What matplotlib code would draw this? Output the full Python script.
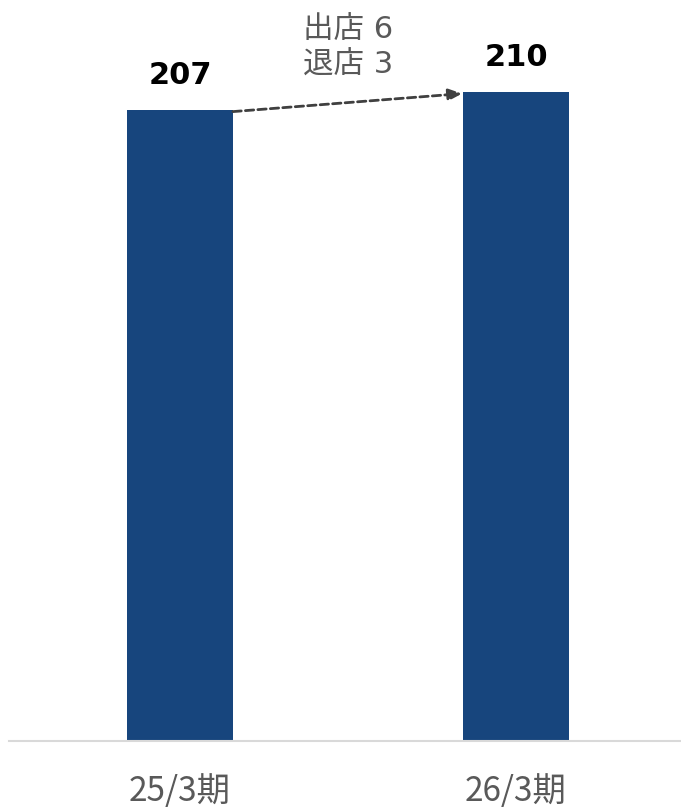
import matplotlib
matplotlib.use("Agg")
import matplotlib.pyplot as plt

plt.rcParams['font.family'] = ['Noto Sans CJK JP', 'DejaVu Sans']

# data
periods = ['25/3期', '26/3期']
stores = [207, 210]
opened = 6
closed = 3

bar_color = '#17457D'
text_gray = '#595959'

fig = plt.figure(figsize=(6.81, 8.09), dpi=100)
ax = fig.add_axes([9 / 681, 68 / 809, 672 / 681, 741 / 809])

x = list(range(len(periods)))
w = 0.315
ax.bar(x, stores, width=w, color=bar_color, zorder=2)

ax.set_ylim(101.8, 101.8 + 741 / 6)
ax.set_xlim(-0.509, 1.491)

for s in ['top', 'right', 'left']:
    ax.spines[s].set_visible(False)
ax.spines['bottom'].set_color('#D9D9D9')
ax.spines['bottom'].set_linewidth(1.5)
ax.set_yticks([])
ax.set_xticks(x)
ax.set_xticklabels(periods, fontsize=24, color=text_gray)
ax.tick_params(axis='x', length=0, pad=24)

# value labels
for xi, v in zip(x, stores):
    ax.annotate(str(v), (xi, v), xytext=(0, 25), textcoords='offset points',
                ha='center', va='center', fontsize=22, fontweight='bold',
                family='DejaVu Sans', color='black')

# dashed arrow between bars
ax.annotate('', xy=(x[1] - w / 2 - 0.003, stores[1] - 0.3),
            xytext=(x[0] + w / 2, stores[0] - 0.3),
            arrowprops=dict(arrowstyle='-|>,head_length=0.8,head_width=0.35',
                            color='#404040', lw=2, linestyle=(0, (3, 1.5)),
                            shrinkA=0, shrinkB=0))

mid_y = (stores[0] + stores[1]) / 2
ax.annotate(f'出店 {opened}\n退店 {closed}', ((x[0] + x[1]) / 2, mid_y),
            xytext=(0, 38.5), textcoords='offset points', ha='center', va='center',
            fontsize=22, color=text_gray, linespacing=1.33,
            family=['DejaVu Sans', 'Noto Sans CJK JP'])

fig.savefig('out.png', dpi=100)
